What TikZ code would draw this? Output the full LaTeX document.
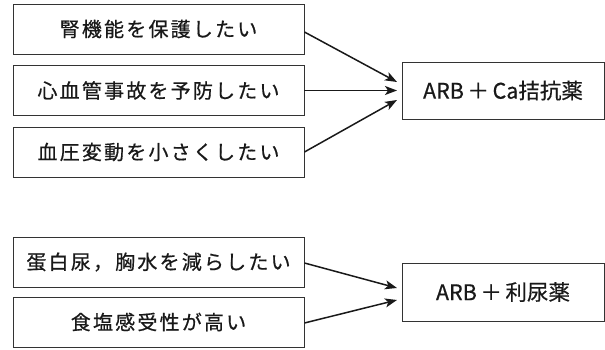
\documentclass[tikz,border=0pt]{standalone}
\usepackage{fontspec}
\usetikzlibrary{arrows.meta}
\newfontfamily\jpl[LetterSpace=11,FakeBold=0.6]{Noto Sans CJK JP}
\newfontfamily\jpr[FakeBold=0.6]{Noto Sans CJK JP}
\begin{document}
\begin{tikzpicture}[x=1pt,y=-1pt,
  lbox/.style={draw=black!80,line width=0.9pt,minimum width=291pt,minimum height=50pt,inner sep=0pt,font=\jpl\fontsize{20}{22}\selectfont,text=black!90},
  rbox/.style={draw=black!80,line width=0.9pt,minimum width=202pt,minimum height=57pt,inner sep=0pt,font=\jpr\fontsize{21.5}{24}\selectfont,text=black!90},
  arr/.style={draw=black!90,line width=1.5pt,-{Stealth[length=12pt,width=9pt,inset=3pt]}}]
\useasboundingbox (0,0) rectangle (605,350);
\node[lbox] (a1) at (158.5,29) {腎機能を保護したい};
\node[lbox] (a2) at (158.5,90.5) {心血管事故を予防したい};
\node[lbox] (a3) at (158.5,152) {血圧変動を小さくしたい};
\node[rbox] (r1) at (503,90.5) {ARB\,＋\,Ca拮抗薬};
\node[lbox] (b1) at (158.5,262) {蛋白尿，胸水を減らしたい};
\node[lbox] (b2) at (158.5,322) {食塩感受性が高い};
\node[rbox,minimum height=58pt] (r2) at (503,292) {ARB\,＋\,利尿薬};
\coordinate (t1) at (397,82);
\coordinate (t2) at (397,90.5);
\coordinate (t3) at (397,100);
\coordinate (u1) at (397,288);
\coordinate (u2) at (397,300);
\draw[arr] (a1.east) ++(0,3) -- (t1);
\draw[arr] (a2.east) -- (t2);
\draw[arr] (a3.east) -- (t3);
\draw[arr] (b1.east) ++(0,1) -- (u1);
\draw[arr] (b2.east) ++(0,1) -- (u2);
\end{tikzpicture}
\end{document}
